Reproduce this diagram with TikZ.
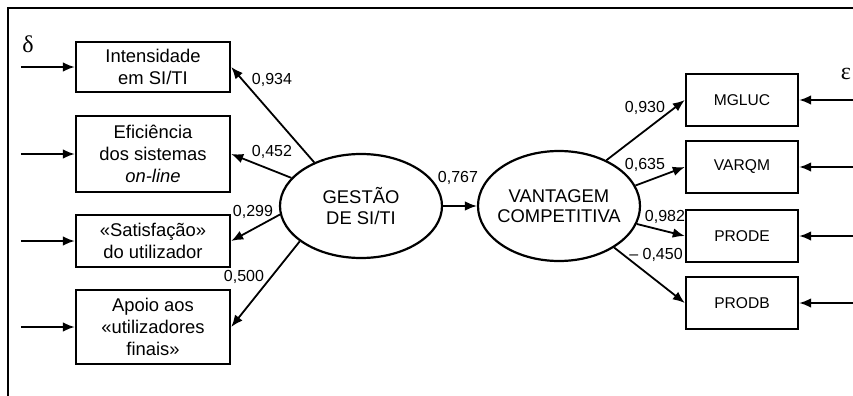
\documentclass[tikz,border=0pt]{standalone}
\usepackage{fontspec}
\setmainfont{Liberation Sans}
\newfontfamily\greekfont{Liberation Serif}
\usetikzlibrary{arrows.meta,shapes.geometric}

\begin{document}
\begin{tikzpicture}[x=0.5pt,y=-0.5pt,>={Latex[length=6pt,width=4.8pt]},
  ind/.style={draw,line width=1.2pt,align=center,font=\fontsize{9.2}{11}\selectfont,
    minimum width=77pt,inner sep=0pt},
  obs/.style={draw,line width=1.2pt,font=\fontsize{7.8}{9}\selectfont,
    minimum width=56pt,minimum height=26pt,inner sep=0pt},
  lat/.style={ellipse,draw,line width=1.1pt,minimum width=81pt,inner sep=0pt},
  lattext/.style={align=center,font=\fontsize{9.2}{10.3}\selectfont,inner sep=0pt},
  coef/.style={font=\fontsize{8}{9}\selectfont,inner sep=0pt},
  err/.style={font=\greekfont\fontsize{12}{14}\selectfont,inner sep=0pt},
  lnk/.style={->,line width=0.9pt}]
 \useasboundingbox (0,0) rectangle (853,396);
 \draw[line width=1.1pt] (853,8) -- (8,8) -- (8,396);
 % indicadores de gestao
 \node[ind,minimum height=25pt] (int) at (153,67) {Intensidade\\em SI/TI};
 \node[ind,minimum height=38pt] (efi) at (153,154) {Eficiência\\dos sistemas\\\textit{on-line}};
 \node[ind,minimum height=26pt] (sat) at (153,241) {«Satisfação»\\do utilizador};
 \node[ind,minimum height=37pt] (apo) at (153,327) {Apoio aos\\«utilizadores\\finais»};
 % variaveis latentes
 \node[lat,minimum height=52pt,label={[lattext]center:{GESTÃO\\DE SI/TI}}] (ges) at (361,206) {};
 \node[lat,minimum height=55pt,label={[lattext]center:{VANTAGEM\\COMPETITIVA}}] (van) at (559,206) {};
 % indicadores de vantagem
 \node[obs] (mgl) at (742,100) {MGLUC};
 \node[obs] (var) at (742,167) {VARQM};
 \node[obs] (pde) at (742,236) {PRODE};
 \node[obs] (pdb) at (742,303) {PRODB};
 % erros
 \node[err] (delta) at (28,44) {δ};
 \node[err] (eps) at (846,74) {ε};
 \foreach \b in {int,efi,sat,apo} {
   \path (\b.west) ++(-54,0) coordinate (e-\b);
   \draw[lnk] (e-\b) -- (\b.west);
 }
 \foreach \b in {mgl,var,pde,pdb} {
   \path (\b.east) ++(56,0) coordinate (e-\b);
   \draw[lnk] (e-\b) -- (\b.east);
 }
 % coeficientes
 \draw[lnk] (ges.137) -- (int.east);
 \draw[lnk] (ges.158) -- (efi.east);
 \draw[lnk] (ges.186) -- (sat.east);
 \draw[lnk] (ges.210) -- (apo.east);
 \draw[lnk] (ges) -- (van);
 \draw[lnk] (van.44) -- (mgl.west);
 \draw[lnk] (van.15) -- (var.west);
 \draw[lnk] (van.-13) -- (pde.west);
 \draw[lnk] (van.-37) -- (pdb.west);
 \node[coef] (c934) at (272,80) {0,934};
 \node[coef] (c452) at (272,152) {0,452};
 \node[coef] (c299) at (253,212) {0,299};
 \node[coef] (c500) at (244,277) {0,500};
 \node[coef] (c767) at (458,178) {0,767};
 \node[coef] (c930) at (645,108) {0,930};
 \node[coef] (c635) at (645,165) {0,635};
 \node[coef] (c982) at (665,217) {0,982};
 \node[coef] (c450) at (656,255) {– 0,450};
\end{tikzpicture}
\end{document}
